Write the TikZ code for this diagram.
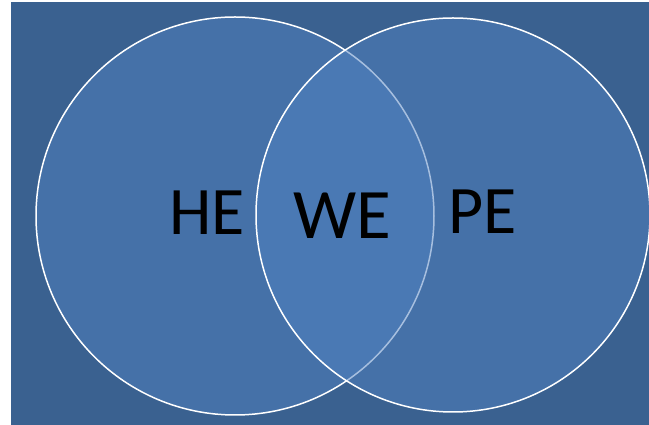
\documentclass[tikz,border=0pt]{standalone}
\usepackage{fontspec}
\setmainfont{Carlito}
\usepackage{tikz}
\usetikzlibrary{positioning,backgrounds}
\definecolor{slide}{RGB}{58,97,144}
\definecolor{disc}{RGB}{80,129,192}
\tikzset{
  setc/.style={circle,draw=white,line width=1.5pt,fill=disc,fill opacity=0.5,inner sep=0pt},
  word/.style={text=black,inner sep=0pt,font=\fontsize{68}{68}\selectfont},
  bigword/.style={word,font=\fontsize{71}{71}\selectfont}
}
\begin{document}
\begin{tikzpicture}[x=1pt,y=1pt]
\useasboundingbox (0,0) rectangle (649,425);
\fill[slide] (11,0) rectangle (649,423);
\node[setc,minimum size=398pt] (hecirc) at (235,209) {};
\node[setc,minimum size=394pt] (pecirc) at (453,210) {};
\node[word] (he) at (207,212) {HE};
\node[bigword] (we) at (342,209) {WE};
\node[word] (pe) at (483,213) {PE};
\end{tikzpicture}
\end{document}
